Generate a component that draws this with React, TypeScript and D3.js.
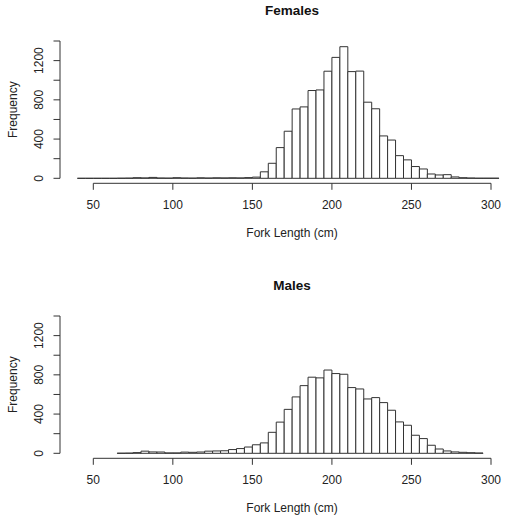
import * as d3 from "d3";

// histogram counts, 5 cm bins
const binWidth = 5;
const femaleStart = 40;
const femaleCounts = [
  0, 0, 0, 0, 0, 1, 2, 6, 4, 9, 3, 2, 6, 3, 2, 5, 3, 5, 4, 5, 4, 7, 12, 66, 153,
  313, 480, 707, 728, 895, 901, 1092, 1233, 1342, 1088, 1093, 776, 709, 432, 390,
  231, 188, 120, 95, 44, 34, 37, 14, 6, 3, 1, 1, 1,
];
const maleStart = 65;
const maleCounts = [
  1, 2, 7, 22, 14, 13, 4, 4, 12, 10, 13, 22, 24, 26, 38, 48, 64, 87, 106, 214,
  318, 448, 575, 690, 776, 769, 849, 813, 806, 670, 656, 554, 568, 517, 439, 320,
  286, 184, 150, 82, 44, 24, 14, 10, 6, 3,
];

const xTicks = [50, 100, 150, 200, 250, 300];
const yTicks = [0, 200, 400, 600, 800, 1000, 1200, 1400];
const yLabelled = [0, 400, 800, 1200];

const panels = [
  { title: "Females", start: femaleStart, counts: femaleCounts },
  { title: "Males", start: maleStart, counts: maleCounts },
];

const W = 511;
const H = 515;
const font = "'Liberation Sans', Arial, Helvetica, sans-serif";
const ink = "#333";

const x = d3.scaleLinear().domain([50, 300]).range([93.3, 491]);
const y = d3.scaleLinear().domain([0, 1400]).range([178.3, 41]);

function Panel({ title, start, counts, dy }: { title: string; start: number; counts: number[]; dy: number }) {
  const bins = counts.map((c, i) => ({ x0: start + i * binWidth, x1: start + (i + 1) * binWidth, n: c }));
  const y0 = y(0);
  const axisY = 183.3;
  // paths rather than rects so empty bins still draw their bottom edge
  const barPath = (b: { x0: number; x1: number; n: number }) => {
    const p = d3.path();
    p.moveTo(x(b.x0), y0);
    p.lineTo(x(b.x0), y(b.n));
    p.lineTo(x(b.x1), y(b.n));
    p.lineTo(x(b.x1), y0);
    p.closePath();
    return p.toString();
  };
  return (
    <g transform={`translate(0,${dy})`}>
      <text x={292} y={15} textAnchor="middle" fontFamily={font} fontWeight="bold" fontSize={13.5} fill="#111">
        {title}
      </text>
      {bins.map((b, i) => (
        <path key={i} d={barPath(b)} fill="#fff" stroke={ink} strokeWidth={1} />
      ))}
      {/* y axis */}
      <line x1={60} x2={60} y1={y(0)} y2={y(1400)} stroke={ink} />
      {yTicks.map((t) => (
        <line key={t} x1={53.5} x2={60} y1={y(t)} y2={y(t)} stroke={ink} />
      ))}
      {yLabelled.map((t) => (
        <text
          key={t}
          transform={`translate(43,${y(t)}) rotate(-90)`}
          textAnchor="middle"
          fontFamily={font}
          fontSize={12}
          fill="#222"
        >
          {t}
        </text>
      ))}
      <text
        transform={`translate(17,${(y(0) + y(1400)) / 2}) rotate(-90)`}
        textAnchor="middle"
        fontFamily={font}
        fontSize={12}
        fill="#222"
      >
        Frequency
      </text>
      {/* x axis */}
      <line x1={x(50)} x2={x(300)} y1={axisY} y2={axisY} stroke={ink} />
      {xTicks.map((t) => (
        <g key={t}>
          <line x1={x(t)} x2={x(t)} y1={axisY} y2={axisY + 6.5} stroke={ink} />
          <text x={x(t)} y={209} textAnchor="middle" fontFamily={font} fontSize={12} fill="#222">
            {t}
          </text>
        </g>
      ))}
      <text x={292} y={237} textAnchor="middle" fontFamily={font} fontSize={12} fill="#222">
        Fork Length (cm)
      </text>
    </g>
  );
}

export default function App() {
  return (
    <svg width={W} height={H} style={{ position: "absolute", left: 0, top: 0, background: "#fff" }}>
      {panels.map((p, i) => (
        <Panel key={p.title} title={p.title} start={p.start} counts={p.counts} dy={i * 275} />
      ))}
    </svg>
  );
}
